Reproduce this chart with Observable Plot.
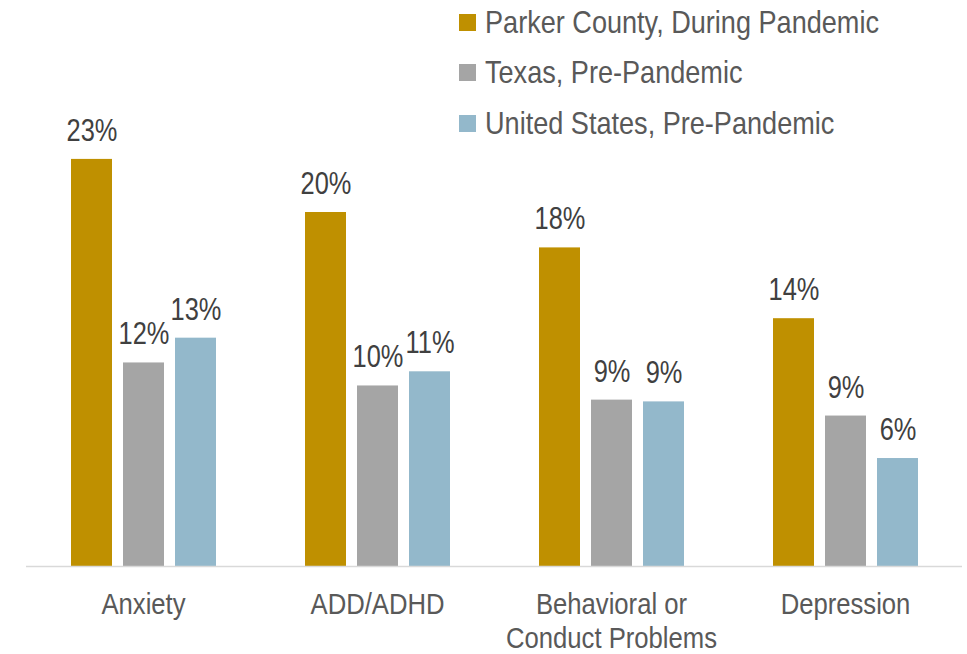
<!DOCTYPE html>
<html><head><meta charset="utf-8">
<script src="https://cdn.jsdelivr.net/npm/d3@7"></script>
<script src="https://cdn.jsdelivr.net/npm/@observablehq/plot@0.6"></script>
<style>
html,body{margin:0;padding:0;background:#fff;}
#wrap{position:relative;width:967px;height:654px;font-family:'Liberation Sans Narrow','Arial Narrow','Liberation Sans',sans-serif;}
#legend{position:absolute;left:459px;top:-3px;}
.row{display:flex;align-items:center;height:50.5px;}
.sw{width:17px;height:17px;margin-right:9px;flex:none;}
.lt{font-size:31.5px;color:#595959;white-space:nowrap;transform:scaleX(0.86);transform-origin:left center;}
</style></head><body><div id="wrap"><div id="legend"></div></div>
<script>
const categories = ["Anxiety", "ADD/ADHD", "Behavioral or\nConduct Problems", "Depression"];
const seriesNames = ["Parker County, During Pandemic", "Texas, Pre-Pandemic", "United States, Pre-Pandemic"];
const parker = [23, 20, 18, 14];
const texas = [11.5, 10.2, 9.4, 8.5];
const us = [12.9, 11, 9.3, 6.1];
const colors = ["#BF9000", "#A5A5A5", "#93B8CB"];

const seriesValues = [parker, texas, us];
const data = [];
categories.forEach((c, i) => {
  seriesNames.forEach((s, j) => {
    const v = seriesValues[j][i];
    data.push({category: c, series: s, value: v, label: Math.round(v) + "%"});
  });
});

const font = "'Liberation Sans Narrow','Arial Narrow','Liberation Sans',sans-serif";
const chart = Plot.plot({
  width: 967, height: 654,
  marginLeft: 24, marginRight: 4, marginTop: 35, marginBottom: 88,
  style: {fontFamily: font, background: "transparent", overflow: "visible"},
  fx: {domain: categories, padding: 0, label: null},
  x: {domain: seriesNames, paddingInner: 0.215, paddingOuter: 0.852, axis: null},
  y: {domain: [0, 30], axis: null},
  color: {domain: seriesNames, range: colors},
  marks: [
    Plot.barY(data, {fx: "category", x: "series", y: "value", fill: "series"}),
    Plot.ruleY([0], {stroke: "#d9d9d9", strokeWidth: 1.5}),
    Plot.text(data, {fx: "category", x: "series", y: "value", text: "label", lineAnchor: "bottom", dy: -18.5, fontSize: 31, fill: "#404040"}),
    Plot.axisFx({anchor: "bottom", tickSize: 0, tickPadding: 23, fontSize: 29.5, lineHeight: 1.16, fill: "#595959", label: null})
  ]
});
document.getElementById("wrap").prepend(chart);

// condense text horizontally (Arial Narrow look) around each text's centre
function condense(sel, k) {
  chart.querySelectorAll(sel).forEach(t => {
    const g = document.createElementNS("http://www.w3.org/2000/svg", "g");
    const tr = t.getAttribute("transform");
    if (tr) { g.setAttribute("transform", tr); t.removeAttribute("transform"); }
    t.parentNode.insertBefore(g, t);
    g.appendChild(t);
    t.style.transformBox = "fill-box";
    t.style.transformOrigin = "center";
    t.style.transform = `scaleX(${k})`;
  });
}
condense('g[aria-label="text"] text', 0.82);
condense('g[aria-label="fx-axis tick label"] text', 0.87);

const legend = d3.select("#legend");
seriesNames.forEach((s, j) => {
  const r = legend.append("div").attr("class", "row");
  r.append("div").attr("class", "sw").style("background", colors[j]);
  r.append("div").attr("class", "lt").text(s);
});
</script></body></html>
